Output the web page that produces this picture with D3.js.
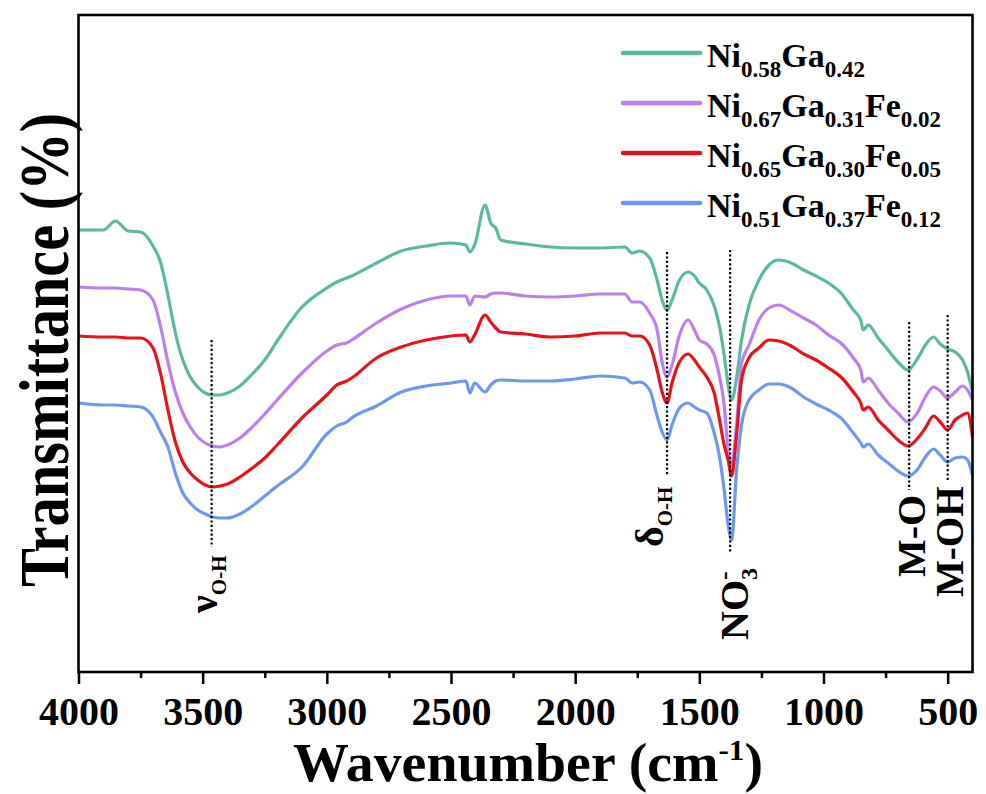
<!DOCTYPE html>
<html>
<head>
<meta charset="utf-8">
<script src="https://cdnjs.cloudflare.com/ajax/libs/d3/7.8.5/d3.min.js"></script>
<style>
  body { margin: 0; background: #fff; }
  text { font-family: "Liberation Serif", "Times New Roman", serif; font-weight: bold; fill: #000; }
</style>
</head>
<body>
<div id="dataviz-container"></div>
<script>
// FTIR spectra, values (transmittance, arbitrary offset units)
var wavenumbers = [4000, 3900, 3851, 3800, 3750, 3700, 3670, 3640, 3610, 3580, 3550, 3520, 3490, 3460, 3430, 3400,
  3350, 3300, 3250, 3200, 3100, 3000, 2960, 2920, 2900, 2800, 2700, 2600, 2500, 2440, 2424, 2405, 2363, 2340, 2320, 2300,
  2200, 2100, 2000, 1900, 1800, 1771, 1740, 1700, 1670, 1650, 1630, 1610, 1580, 1545, 1520, 1500, 1470, 1440, 1420, 1400,
  1384, 1370, 1350, 1330, 1300, 1260, 1220, 1180, 1130, 1080, 1030, 980, 930, 880, 850, 840, 820, 780, 740, 700,
  660, 620, 590, 557, 530, 500, 470, 440, 420, 400];

var ni58ga42 = [44.2, 44.2, 45.1, 44.1, 44.0, 42.6, 41.0, 37.7, 33.9, 31.2, 29.5, 28.5, 27.9, 27.7, 27.7, 27.9,
  28.6, 29.8, 31.2, 33.1, 36.5, 38.4, 39.0, 39.4, 39.6, 40.9, 42.1, 42.6, 42.9, 42.7, 42.0, 42.7, 46.7, 44.9, 44.4, 43.2,
  42.8, 42.5, 42.4, 42.4, 42.5, 41.9, 42.1, 41.4, 39.2, 37.2, 36.2, 37.2, 39.2, 40.0, 39.6, 38.9, 38.2, 36.6, 34.7, 31.7,
  28.7, 27.2, 29.4, 33.2, 36.7, 39.2, 40.7, 41.2, 40.9, 40.2, 39.6, 38.9, 37.9, 36.2, 35.2, 34.2, 34.7, 33.4, 32.2, 31.0,
  30.2, 31.4, 32.7, 33.5, 32.8, 32.3, 32.0, 31.2, 30.0, 28.0];

var ni67ga31fe02 = [38.5, 38.4, 38.4, 38.3, 38.2, 37.2, 34.6, 31.0, 28.0, 25.9, 24.5, 23.5, 22.9, 22.6, 22.5, 22.7,
  23.4, 24.5, 25.8, 27.2, 29.9, 32.1, 32.7, 32.9, 33.2, 34.9, 36.3, 37.2, 37.6, 37.6, 36.7, 37.6, 37.5, 37.8, 37.9, 37.9,
  37.6, 37.5, 37.6, 37.8, 37.8, 37.0, 37.0, 35.9, 34.2, 31.0, 29.5, 30.7, 33.7, 35.2, 34.2, 33.2, 32.8, 31.7, 29.7, 26.7,
  22.2, 20.7, 24.7, 30.9, 32.7, 35.2, 36.4, 36.7, 36.1, 35.4, 34.7, 33.7, 32.9, 31.4, 30.2, 29.0, 29.4, 28.2, 26.9, 25.9,
  25.0, 26.0, 27.5, 28.5, 28.1, 27.4, 28.0, 28.6, 28.2, 27.2];

var ni65ga30fe05 = [33.6, 33.5, 33.5, 33.4, 33.4, 32.4, 29.9, 26.2, 23.0, 21.0, 19.9, 19.2, 18.7, 18.5, 18.6, 18.8,
  19.5, 20.4, 21.4, 22.7, 25.4, 27.7, 28.7, 29.1, 29.4, 31.4, 32.5, 33.2, 33.6, 33.7, 33.0, 33.7, 35.7, 35.0, 34.4, 34.0,
  33.8, 33.5, 33.6, 33.9, 33.9, 33.6, 33.6, 32.7, 30.2, 28.0, 26.9, 28.9, 31.0, 31.8, 31.2, 30.5, 29.5, 27.9, 25.4, 22.7,
  21.2, 19.6, 23.7, 29.2, 31.4, 32.4, 33.2, 33.1, 32.6, 31.8, 31.2, 30.4, 29.5, 28.0, 26.9, 26.2, 26.5, 25.2, 24.2, 23.2,
  22.6, 23.4, 24.4, 25.6, 25.0, 24.2, 25.2, 25.7, 25.9, 23.5];

var ni51ga37fe12 = [26.9, 26.7, 26.7, 26.6, 26.5, 25.5, 24.0, 22.5, 19.9, 17.9, 16.9, 16.2, 15.8, 15.5, 15.4, 15.4,
  15.8, 16.6, 17.6, 18.6, 20.5, 23.8, 24.6, 25.0, 25.4, 26.6, 28.0, 28.6, 28.9, 29.1, 27.9, 28.9, 28.0, 28.7, 29.1, 29.2,
  29.1, 29.1, 29.3, 29.6, 29.4, 28.9, 29.0, 28.2, 25.6, 24.0, 23.2, 24.7, 26.4, 26.9, 26.5, 26.2, 25.9, 23.9, 21.7, 18.2,
  14.7, 13.2, 20.2, 24.7, 27.2, 28.2, 28.8, 28.8, 28.4, 27.5, 26.8, 26.2, 25.4, 23.9, 22.9, 22.5, 22.8, 21.7, 20.9, 20.1,
  19.6, 20.3, 21.5, 22.3, 21.7, 21.0, 21.4, 21.5, 21.2, 19.7];

// legend names as [element, subscript] pairs
var seriesNames = [
  [["Ni", "0.58"], ["Ga", "0.42"]],
  [["Ni", "0.67"], ["Ga", "0.31"], ["Fe", "0.02"]],
  [["Ni", "0.65"], ["Ga", "0.30"], ["Fe", "0.05"]],
  [["Ni", "0.51"], ["Ga", "0.37"], ["Fe", "0.12"]]
];
var seriesValues = [ni58ga42, ni67ga31fe02, ni65ga30fe05, ni51ga37fe12];
var seriesColors = ["#5db7a2", "#bb80ee", "#e5141b", "#6e98ec"];

var majorTicks = [4000, 3500, 3000, 2500, 2000, 1500, 1000, 500];
var minorTicks = [3750, 3250, 2750, 2250, 1750, 1250, 750];

// band assignments: wavenumber of the dotted marker and its vertical extent (same units as the spectra)
var bandWavenumbers = [3464, 1630, 1376, 655, 500];
var bandTop = [33.2, 42.0, 42.2, 35.0, 35.7];
var bandBottom = [12.5, 19.7, 12.0, 18.2, 19.0];

var width = 986, height = 794;
var x = d3.scaleLinear().domain([4000, 400]).range([78.5, 972.5]);
var y = d3.scaleLinear().domain([0, 65.7]).range([672, 15]);

var svg = d3.select('#dataviz-container')
  .append('svg')
    .attr('width', width)
    .attr('height', height);

svg.append('rect').attr('width', width).attr('height', height).attr('fill', '#fff');

// spectra
var line = d3.line()
  .x(function(d, i) { return x(wavenumbers[i]); })
  .y(function(d) { return y(d); })
  .curve(d3.curveMonotoneX);

svg.selectAll('.spectrum')
  .data(seriesValues)
  .enter()
    .append('path')
    .attr('class', 'spectrum')
    .attr('d', line)
    .attr('fill', 'none')
    .attr('stroke', function(d, i) { return seriesColors[i]; })
    .attr('stroke-width', 3.2)
    .attr('stroke-linejoin', 'round');

// dotted band markers
svg.selectAll('.band')
  .data(bandWavenumbers)
  .enter()
    .append('line')
    .attr('class', 'band')
    .attr('x1', function(d) { return x(d); })
    .attr('x2', function(d) { return x(d); })
    .attr('y1', function(d, i) { return y(bandTop[i]); })
    .attr('y2', function(d, i) { return y(bandBottom[i]); })
    .attr('stroke', '#000')
    .attr('stroke-width', 2.2)
    .attr('stroke-dasharray', '2.2,2.2');

// band labels, rotated, read bottom to top
function bandLabel(w, dx, bottom) {
  return svg.append('text')
    .attr('transform', 'translate(' + (x(w) + dx) + ',' + bottom + ') rotate(-90)')
    .attr('text-anchor', 'start')
    .style('font-size', '40px');
}
var lb = bandLabel(bandWavenumbers[0], 5, 613);
lb.append('tspan').text('ν');
lb.append('tspan').attr('dy', 9).style('font-size', '21px').text('O-H');

lb = bandLabel(bandWavenumbers[1], -4, 547);
lb.append('tspan').text('δ');
lb.append('tspan').attr('dy', 9).style('font-size', '21px').text('O-H');

lb = bandLabel(bandWavenumbers[2], 18, 640);
lb.append('tspan').text('NO');
lb.append('tspan').attr('dy', 9).style('font-size', '24px').text('3');
lb.append('tspan').attr('dx', -12).attr('dy', -25).style('font-size', '26px').text('-');

bandLabel(bandWavenumbers[3], 16, 577).style('font-size', '40px').text('M-O');
bandLabel(bandWavenumbers[4], 15, 597).style('font-size', '39px').text('M-OH');

// axes: labelled major ticks + short minor ticks, nothing on the left
var xAxis = d3.axisBottom(x).tickValues(majorTicks).tickSize(12).tickSizeOuter(0).tickPadding(12.5).tickFormat(d3.format('d'));
var xMinor = d3.axisBottom(x).tickValues(minorTicks).tickSize(6).tickSizeOuter(0).tickFormat('');

var gx = svg.append('g').attr('transform', 'translate(0,672)').call(xAxis);
var gm = svg.append('g').attr('transform', 'translate(0,672)').call(xMinor);
[gx, gm].forEach(function(g) {
  g.select('.domain').remove();
  g.selectAll('line').attr('stroke', '#000').attr('stroke-width', 2.5);
});
gx.selectAll('text')
  .style('font-size', '40px')
  .style('font-family', '"Liberation Serif", "Times New Roman", serif')
  .style('font-weight', 'bold')
  .attr('fill', '#000');

// frame
svg.append('rect')
  .attr('x', x.range()[0])
  .attr('y', y.range()[1])
  .attr('width', x.range()[1] - x.range()[0])
  .attr('height', y.range()[0] - y.range()[1])
  .attr('fill', 'none')
  .attr('stroke', '#000')
  .attr('stroke-width', 2.6);

// axis titles (the original lettering is tall and narrow, hence textLength)
var xt = svg.append('text')
  .attr('x', 528)
  .attr('y', 781)
  .attr('text-anchor', 'middle')
  .attr('textLength', 470)
  .attr('lengthAdjust', 'spacingAndGlyphs')
  .style('font-size', '54px');
xt.append('tspan').text('Wavenumber (cm');
xt.append('tspan').attr('dy', -21).style('font-size', '30px').text('-1');
xt.append('tspan').attr('dy', 21).text(')');

svg.append('text')
  .attr('transform', 'translate(68,350) rotate(-90)')
  .attr('text-anchor', 'middle')
  .attr('textLength', 474)
  .attr('lengthAdjust', 'spacingAndGlyphs')
  .style('font-size', '70px')
  .text('Transmittance (%)');

// legend
var legend = svg.selectAll('.legend')
  .data(seriesNames)
  .enter()
    .append('g')
    .attr('class', 'legend')
    .attr('transform', function(d, i) { return 'translate(623,' + (53 + i * 50) + ')'; });

legend.append('line')
  .attr('x1', 0).attr('x2', 77)
  .attr('stroke', function(d, i) { return seriesColors[i]; })
  .attr('stroke-width', 4.5)
  .attr('stroke-linecap', 'round');

legend.append('text')
  .attr('x', 84)
  .attr('y', 14)
  .style('font-size', '34px')
  .each(function(parts) {
    var t = d3.select(this);
    parts.forEach(function(p, k) {
      t.append('tspan').attr('dy', k ? -10 : 0).text(p[0]);
      t.append('tspan').attr('dy', 10).style('font-size', '23px').text(p[1]);
    });
  });
</script>
</body>
</html>
